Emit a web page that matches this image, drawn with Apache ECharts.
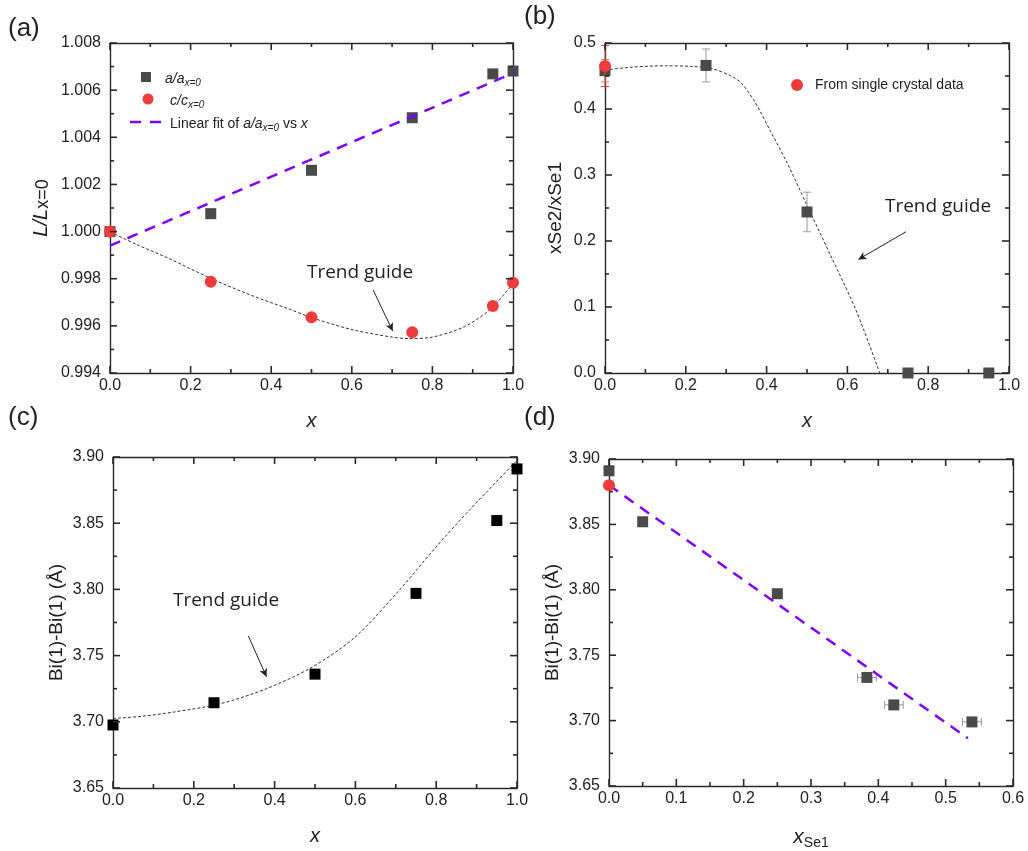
<!DOCTYPE html>
<html>
<head>
<meta charset="utf-8">
<script src="https://cdn.jsdelivr.net/npm/echarts@6/dist/echarts.min.js"></script>
<style>
  html, body { margin: 0; padding: 0; background: #fff; }
  #chart { width: 1028px; height: 851px; }
</style>
</head>
<body>
<div id="chart"></div>
<script>
// ---------- DATA ----------
// (a) lattice parameter ratios vs x
const aX = [0, 0.25, 0.5, 0.75, 0.95, 1.0];
const aRatioA = [1.0000, 1.00076, 1.0026, 1.00483, 1.00669, 1.00681];
const aRatioC = [1.0000, 0.99787, 0.99636, 0.99573, 0.99684, 0.99783];
const aFitX = [0, 1.0];
const aFitY = [0.99940, 1.00672];
const aTrendX = [0, 0.065, 0.146, 0.252, 0.35, 0.44, 0.505, 0.603, 0.701, 0.742, 0.799, 0.88, 0.946, 1.0];
const aTrendY = [0.99999, 0.99946, 0.99886, 0.99800, 0.99730, 0.99674, 0.99632, 0.99583, 0.99552, 0.99546, 0.99552, 0.99597, 0.99674, 0.9978];

// (b) xSe2/xSe1 vs x
const bX = [0, 0.25, 0.5, 0.75, 0.95];
const bY = [0.458, 0.466, 0.244, 0, 0];
const bErr = [0.017, 0.025, 0.03, 0, 0];
const bScX = [0];
const bScY = [0.465];
const bScErr = [0.031];
const bTrendX = [0, 0.068, 0.15, 0.215, 0.264, 0.313, 0.337, 0.37, 0.41, 0.451, 0.5, 0.557, 0.622, 0.68];
const bTrendY = [0.459, 0.4635, 0.4655, 0.4645, 0.4614, 0.4497, 0.4396, 0.4116, 0.366, 0.318, 0.254, 0.180, 0.094, 0];

// (c) Bi(1)-Bi(1) vs x
const cX = [0, 0.25, 0.5, 0.75, 0.95, 1.0];
const cY = [3.6976, 3.7144, 3.736, 3.797, 3.852, 3.891];
const cTrendX = [0, 0.069, 0.151, 0.265, 0.379, 0.493, 0.599, 0.704, 0.802, 0.884, 1.0];
const cTrendY = [3.7025, 3.7041, 3.7074, 3.7136, 3.7249, 3.7413, 3.7639, 3.7978, 3.8329, 3.8605, 3.8975];

// (d) Bi(1)-Bi(1) vs xSe1
const dX = [0, 0.05, 0.25, 0.383, 0.423, 0.539];
const dY = [3.891, 3.852, 3.797, 3.733, 3.712, 3.699];
const dXErr = [0, 0, 0, 0.014, 0.014, 0.014];
const dScX = [0];
const dScY = [3.880];
const dFitX = [0, 0.533];
const dFitY = [3.880, 3.6865];

// tick values (major)
const ticksX01 = [0, 0.2, 0.4, 0.6, 0.8, 1.0];
const ticksXd = [0, 0.1, 0.2, 0.3, 0.4, 0.5, 0.6];
const ticksYa = [0.994, 0.996, 0.998, 1.000, 1.002, 1.004, 1.006, 1.008];
const ticksYb = [0, 0.1, 0.2, 0.3, 0.4, 0.5];
const ticksYcd = [3.65, 3.70, 3.75, 3.80, 3.85, 3.90];

// annotation arrows (data coords)
const aArrow = [[0.653, 0.99752], [0.7015, 0.99578]];
const bArrow = [[0.745, 0.214], [0.627, 0.172]];
const cArrow = [[0.335, 3.7648], [0.380, 3.734]];

// ---------- HELPERS ----------
const zip = (xs, ys) => xs.map((x, i) => [x, ys[i]]);
const zip3 = (xs, ys, es) => xs.map((x, i) => [x, ys[i], es[i]]);
const FONT = 'Liberation Sans, Arial, sans-serif';
const AX = '#2a2a2a';
const grids = [
  {left: 110, top: 43, width: 403, height: 330},
  {left: 605, top: 43, width: 404, height: 330},
  {left: 113, top: 457, width: 404, height: 331},
  {left: 609, top: 459, width: 404, height: 329}
];

function axis(kind, gi, position, min, max, interval, dec, main, extra) {
  const a = {
    type: 'value', gridIndex: gi, position: position,
    min: min, max: max, interval: interval,
    axisLine: {show: true, onZero: false, lineStyle: {color: AX, width: 1.4}},
    axisTick: {show: false},
    minorTick: {show: false},
    splitLine: {show: false},
    axisLabel: {show: main, fontFamily: FONT, fontSize: 16, color: '#222',
      margin: kind === 'x' ? 5 : 9,
      formatter: v => v.toFixed(dec)},
    nameTextStyle: {fontFamily: FONT, color: '#222', fontSize: 19}
  };
  return Object.assign(a, extra || {});
}

const xName = {name: 'x', nameLocation: 'middle', nameGap: 38,
  nameTextStyle: {fontFamily: FONT, color: '#222', fontSize: 20, fontStyle: 'italic'}};
const biName = {name: 'Bi(1)-Bi(1) (Å)', nameLocation: 'middle', nameGap: 47, nameRotate: 90,
  nameTextStyle: {fontFamily: FONT, color: '#222', fontSize: 19}};

const xAxes = [], yAxes = [];
// (a)
xAxes.push(axis('x', 0, 'bottom', 0, 1, 0.2, 1, true, xName));
xAxes.push(axis('x', 0, 'top', 0, 1, 0.2, 1, false));
yAxes.push(axis('y', 0, 'left', 0.994, 1.008, 0.002, 3, true, {
  name: '{i|L/L}{n|x=0}', nameLocation: 'middle', nameGap: 58, nameRotate: 90,
  nameTextStyle: {rich: {
    i: {fontFamily: FONT, fontSize: 20, fontStyle: 'italic', color: '#222', lineHeight: 22, verticalAlign: 'middle'},
    n: {fontFamily: FONT, fontSize: 18, color: '#222', lineHeight: 22, verticalAlign: 'bottom'}}}}));
yAxes.push(axis('y', 0, 'right', 0.994, 1.008, 0.002, 3, false));
// (b)
xAxes.push(axis('x', 1, 'bottom', 0, 1, 0.2, 1, true, xName));
xAxes.push(axis('x', 1, 'top', 0, 1, 0.2, 1, false));
yAxes.push(axis('y', 1, 'left', 0, 0.5, 0.1, 1, true, {
  name: 'xSe2/xSe1', nameLocation: 'middle', nameGap: 40, nameRotate: 90,
  nameTextStyle: {fontFamily: FONT, color: '#222', fontSize: 19}}));
yAxes.push(axis('y', 1, 'right', 0, 0.5, 0.1, 1, false));
// (c)
xAxes.push(axis('x', 2, 'bottom', 0, 1, 0.2, 1, true, xName));
xAxes.push(axis('x', 2, 'top', 0, 1, 0.2, 1, false));
yAxes.push(axis('y', 2, 'left', 3.65, 3.90, 0.05, 2, true, biName));
yAxes.push(axis('y', 2, 'right', 3.65, 3.90, 0.05, 2, false));
// (d)
xAxes.push(axis('x', 3, 'bottom', 0, 0.6, 0.1, 1, true, {
  name: '{i|x}{s|Se1}', nameLocation: 'middle', nameGap: 38,
  nameTextStyle: {rich: {
    i: {fontFamily: FONT, fontSize: 21, fontStyle: 'italic', color: '#222', lineHeight: 26, verticalAlign: 'middle'},
    s: {fontFamily: FONT, fontSize: 14, color: '#222', lineHeight: 14, verticalAlign: 'bottom'}}}}));
xAxes.push(axis('x', 3, 'top', 0, 0.6, 0.1, 1, false));
yAxes.push(axis('y', 3, 'left', 3.65, 3.90, 0.05, 2, true, biName));
yAxes.push(axis('y', 3, 'right', 3.65, 3.90, 0.05, 2, false));

const RED = '#ee3b3b';
const GRAY = '#4a4a4a';
const PURPLE = '#8000ff';
const ERRC = '#9a9a9a';

// inward major + minor ticks on all four sides of a panel
function withMinor(t) {
  const out = [];
  t.forEach((v, i) => {
    out.push([v, 1]);
    if (i < t.length - 1) out.push([(v + t[i + 1]) / 2, 0]);
  });
  return out;
}
function tickSeries(axisIdx, xt, yt, xMin, yMin) {
  const st = {stroke: AX, lineWidth: 1.6};
  const xs = {
    type: 'custom', xAxisIndex: axisIdx, yAxisIndex: axisIdx, silent: true, z: 10,
    data: withMinor(xt).map(d => [d[0], yMin, d[1]]),
    renderItem: function (params, api) {
      const cs = params.coordSys;
      const px = api.coord([api.value(0), yMin])[0];
      const len = api.value(2) ? 7 : 4;
      const b = cs.y + cs.height, t = cs.y;
      return {type: 'group', children: [
        {type: 'line', shape: {x1: px, y1: b, x2: px, y2: b - len}, style: st},
        {type: 'line', shape: {x1: px, y1: t, x2: px, y2: t + len}, style: st}
      ]};
    }
  };
  const ys = {
    type: 'custom', xAxisIndex: axisIdx, yAxisIndex: axisIdx, silent: true, z: 10,
    data: withMinor(yt).map(d => [xMin, d[0], d[1]]),
    renderItem: function (params, api) {
      const cs = params.coordSys;
      const py = api.coord([xMin, api.value(1)])[1];
      const len = api.value(2) ? 7 : 4;
      const l = cs.x, r = cs.x + cs.width;
      return {type: 'group', children: [
        {type: 'line', shape: {x1: l, y1: py, x2: l + len, y2: py}, style: st},
        {type: 'line', shape: {x1: r, y1: py, x2: r - len, y2: py}, style: st}
      ]};
    }
  };
  return [xs, ys];
}

function errYRender(color) {
  return function (params, api) {
    const x = api.value(0), y = api.value(1), e = api.value(2);
    if (!e) return null;
    const p1 = api.coord([x, y + e]), p2 = api.coord([x, y - e]);
    const w = 4;
    const st = {stroke: color, lineWidth: 1};
    return {type: 'group', children: [
      {type: 'line', shape: {x1: p1[0], y1: p1[1], x2: p2[0], y2: p2[1]}, style: st},
      {type: 'line', shape: {x1: p1[0] - w, y1: p1[1], x2: p1[0] + w, y2: p1[1]}, style: st},
      {type: 'line', shape: {x1: p2[0] - w, y1: p2[1], x2: p2[0] + w, y2: p2[1]}, style: st}
    ]};
  };
}
function errXRender(color) {
  return function (params, api) {
    const x = api.value(0), y = api.value(1), e = api.value(2);
    if (!e) return null;
    const p1 = api.coord([x - e, y]), p2 = api.coord([x + e, y]);
    const h = 4;
    const st = {stroke: color, lineWidth: 1};
    return {type: 'group', children: [
      {type: 'line', shape: {x1: p1[0], y1: p1[1], x2: p2[0], y2: p2[1]}, style: st},
      {type: 'line', shape: {x1: p1[0], y1: p1[1] - h, x2: p1[0], y2: p1[1] + h}, style: st},
      {type: 'line', shape: {x1: p2[0], y1: p2[1] - h, x2: p2[0], y2: p2[1] + h}, style: st}
    ]};
  };
}
function arrowML(pts) {
  return {
    silent: true, animation: false,
    symbol: ['none', 'arrow'], symbolSize: [6, 8],
    label: {show: false},
    lineStyle: {color: '#222', width: 1, type: 'solid'},
    data: [[{coord: pts[0]}, {coord: pts[1]}]]
  };
}
const trendStyle = {color: '#333', width: 1, type: [3, 2]};
const solid = c => ({color: c, opacity: 1});

const series = [
  // (a)
  {type: 'line', name: 'trendA', xAxisIndex: 0, yAxisIndex: 0, data: zip(aTrendX, aTrendY),
   smooth: 0.3, symbol: 'none', lineStyle: trendStyle, z: 2, markLine: arrowML(aArrow)},
  {type: 'scatter', name: 'aRatio', xAxisIndex: 0, yAxisIndex: 0, data: zip(aX, aRatioA),
   symbol: 'rect', symbolSize: 11, itemStyle: solid(GRAY), z: 3},
  {type: 'line', name: 'fitA', xAxisIndex: 0, yAxisIndex: 0, data: zip(aFitX, aFitY),
   symbol: 'none', lineStyle: {color: PURPLE, width: 2.5, type: [11, 8]}, itemStyle: {color: PURPLE}, z: 4},
  {type: 'scatter', name: 'cRatio', xAxisIndex: 0, yAxisIndex: 0, data: zip(aX, aRatioC),
   symbol: 'circle', symbolSize: 12, itemStyle: solid(RED), z: 5},
  // (b)
  {type: 'line', name: 'trendB', xAxisIndex: 2, yAxisIndex: 2, data: zip(bTrendX, bTrendY),
   smooth: 0.3, symbol: 'none', lineStyle: trendStyle, z: 2, markLine: arrowML(bArrow)},
  {type: 'custom', name: 'errB', xAxisIndex: 2, yAxisIndex: 2, data: zip3(bX, bY, bErr),
   renderItem: errYRender(ERRC), z: 3},
  {type: 'scatter', name: 'bRatio', xAxisIndex: 2, yAxisIndex: 2, data: zip(bX, bY),
   symbol: 'rect', symbolSize: 11, itemStyle: solid(GRAY), z: 4},
  {type: 'custom', name: 'errBsc', xAxisIndex: 2, yAxisIndex: 2, data: zip3(bScX, bScY, bScErr),
   renderItem: errYRender(RED), z: 5},
  {type: 'scatter', name: 'From single crystal data', xAxisIndex: 2, yAxisIndex: 2, data: zip(bScX, bScY),
   symbol: 'circle', symbolSize: 12, itemStyle: solid(RED), z: 6},
  // (c)
  {type: 'line', name: 'trendC', xAxisIndex: 4, yAxisIndex: 4, data: zip(cTrendX, cTrendY),
   smooth: 0.3, symbol: 'none', lineStyle: trendStyle, z: 2, markLine: arrowML(cArrow)},
  {type: 'scatter', name: 'cBi', xAxisIndex: 4, yAxisIndex: 4, data: zip(cX, cY),
   symbol: 'rect', symbolSize: 11, itemStyle: solid('#000'), z: 3},
  // (d)
  {type: 'line', name: 'fitD', xAxisIndex: 6, yAxisIndex: 6, data: zip(dFitX, dFitY),
   symbol: 'none', lineStyle: {color: PURPLE, width: 2.5, type: [11, 8]}, z: 3},
  {type: 'custom', name: 'errD', xAxisIndex: 6, yAxisIndex: 6, data: zip3(dX, dY, dXErr),
   renderItem: errXRender(ERRC), z: 3},
  {type: 'scatter', name: 'dBi', xAxisIndex: 6, yAxisIndex: 6, data: zip(dX, dY),
   symbol: 'rect', symbolSize: 11, itemStyle: solid(GRAY), z: 4},
  {type: 'scatter', name: 'dSc', xAxisIndex: 6, yAxisIndex: 6, data: zip(dScX, dScY),
   symbol: 'circle', symbolSize: 12, itemStyle: solid(RED), z: 5}
].concat(
  tickSeries(0, ticksX01, ticksYa, 0, 0.994),
  tickSeries(2, ticksX01, ticksYb, 0, 0),
  tickSeries(4, ticksX01, ticksYcd, 0, 3.65),
  tickSeries(6, ticksXd, ticksYcd, 0, 3.65)
);

// Legend of panel (a) drawn as graphics (keeps the exact marker shapes)
const legRich = {
  i: {fontFamily: FONT, fontSize: 14, fontStyle: 'italic', fill: '#222'},
  n: {fontFamily: FONT, fontSize: 14, fill: '#222'},
  s: {fontFamily: FONT, fontSize: 10, fontStyle: 'italic', fill: '#222', padding: [9, 0, 0, 0]}
};
function legText(x, y, txt) {
  return {type: 'text', x: x, y: y, z: 100,
    style: {text: txt, rich: legRich, verticalAlign: 'middle', align: 'left'}};
}
const legendA = [
  {type: 'rect', shape: {x: 141, y: 72, width: 10, height: 10}, style: {fill: GRAY}, z: 100},
  legText(165, 79, '{i|a/a}{s|x=0}'),
  {type: 'circle', shape: {cx: 148, cy: 99, r: 5.5}, style: {fill: RED}, z: 100},
  legText(170, 101, '{i|c/c}{s|x=0}'),
  {type: 'line', shape: {x1: 130, y1: 122, x2: 164, y2: 122},
   style: {stroke: PURPLE, lineWidth: 2.5, lineDash: [11, 9]}, z: 100},
  legText(170, 124, '{n|Linear fit of }{i|a/a}{s|x=0}{n| vs }{i|x}')
];

const option = {
  animation: false,
  backgroundColor: '#fff',
  grid: grids,
  xAxis: xAxes,
  yAxis: yAxes,
  legend: [
    {data: ['From single crystal data'], orient: 'vertical', left: 786, top: 73,
     itemWidth: 26, itemHeight: 12, selectedMode: false,
     textStyle: {fontFamily: FONT, fontSize: 14, color: '#222'}}
  ],
  graphic: [
    {type: 'text', left: 8, top: 16, style: {text: '(a)', font: '26px ' + FONT, fill: '#222'}},
    {type: 'text', left: 524, top: 4, style: {text: '(b)', font: '26px ' + FONT, fill: '#222'}},
    {type: 'text', left: 8, top: 405, style: {text: '(c)', font: '26px ' + FONT, fill: '#222'}},
    {type: 'text', left: 524, top: 405, style: {text: '(d)', font: '26px ' + FONT, fill: '#222'}},
    {type: 'text', x: 360, y: 273, style: {text: 'Trend guide', font: '19px "Open Sans", sans-serif', fill: '#222', align: 'center', verticalAlign: 'middle'}},
    {type: 'text', x: 938, y: 207, style: {text: 'Trend guide', font: '19px "Open Sans", sans-serif', fill: '#222', align: 'center', verticalAlign: 'middle'}},
    {type: 'text', x: 226, y: 601, style: {text: 'Trend guide', font: '19px "Open Sans", sans-serif', fill: '#222', align: 'center', verticalAlign: 'middle'}}
  ].concat(legendA),
  series: series
};

const chart = echarts.init(document.getElementById('chart'), null, {renderer: 'canvas'});
chart.setOption(option);
</script>
</body>
</html>
